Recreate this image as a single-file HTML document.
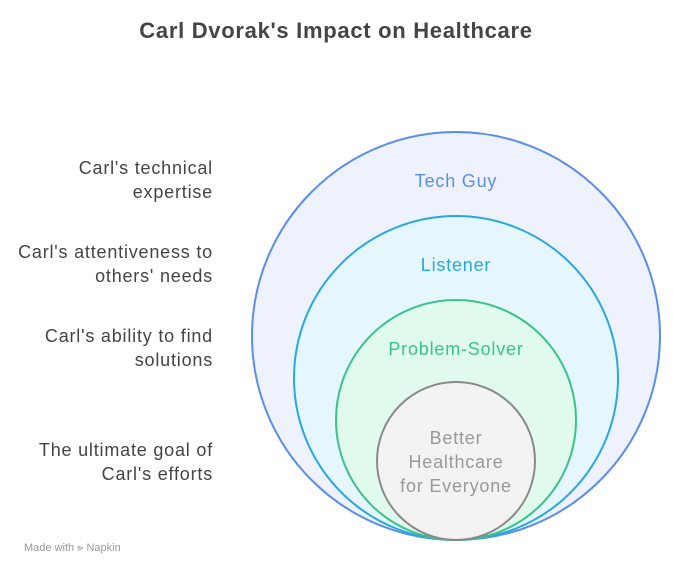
<!DOCTYPE html>
<html><head><style>
body{margin:0;width:673px;height:575px;background:#fff;overflow:hidden}
</style></head><body>
<svg width="673" height="575" xmlns="http://www.w3.org/2000/svg" font-family="Liberation Sans, sans-serif">
<text x="336" y="38" text-anchor="middle" font-size="22" font-weight="bold" fill="#444" letter-spacing="0.7">Carl Dvorak's Impact on Healthcare</text>
<circle cx="456" cy="336" r="204" fill="#edf2fd" stroke="#5a8ded" stroke-width="2"/>
<circle cx="456" cy="378" r="162" fill="#e5f6fd" stroke="#27a8df" stroke-width="2"/>
<circle cx="456" cy="420" r="120" fill="#e0fbee" stroke="#3ac28a" stroke-width="2"/>
<circle cx="456" cy="461" r="79" fill="#f3f3f3" stroke="#8a8a8a" stroke-width="2"/>
<g font-size="18" text-anchor="middle" letter-spacing="0.8">
<text x="456" y="187" fill="#5a8ded">Tech Guy</text>
<text x="456" y="271" fill="#27a8df">Listener</text>
<text x="456" y="355" fill="#3ac28a">Problem-Solver</text>
<text x="456" y="444" fill="#999">Better</text>
<text x="456" y="468" fill="#999">Healthcare</text>
<text x="456" y="492" fill="#999">for Everyone</text>
</g>
<g font-size="18" text-anchor="end" fill="#444" letter-spacing="0.8">
<text x="213" y="174">Carl's technical</text>
<text x="213" y="198">expertise</text>
<text x="213" y="258">Carl's attentiveness to</text>
<text x="213" y="282">others' needs</text>
<text x="213" y="342">Carl's ability to find</text>
<text x="213" y="366">solutions</text>
<text x="213" y="456">The ultimate goal of</text>
<text x="213" y="480">Carl's efforts</text>
</g>
<text x="24" y="551" font-size="11" fill="#999">Made with ⪢ Napkin</text>
</svg>
</body></html>
